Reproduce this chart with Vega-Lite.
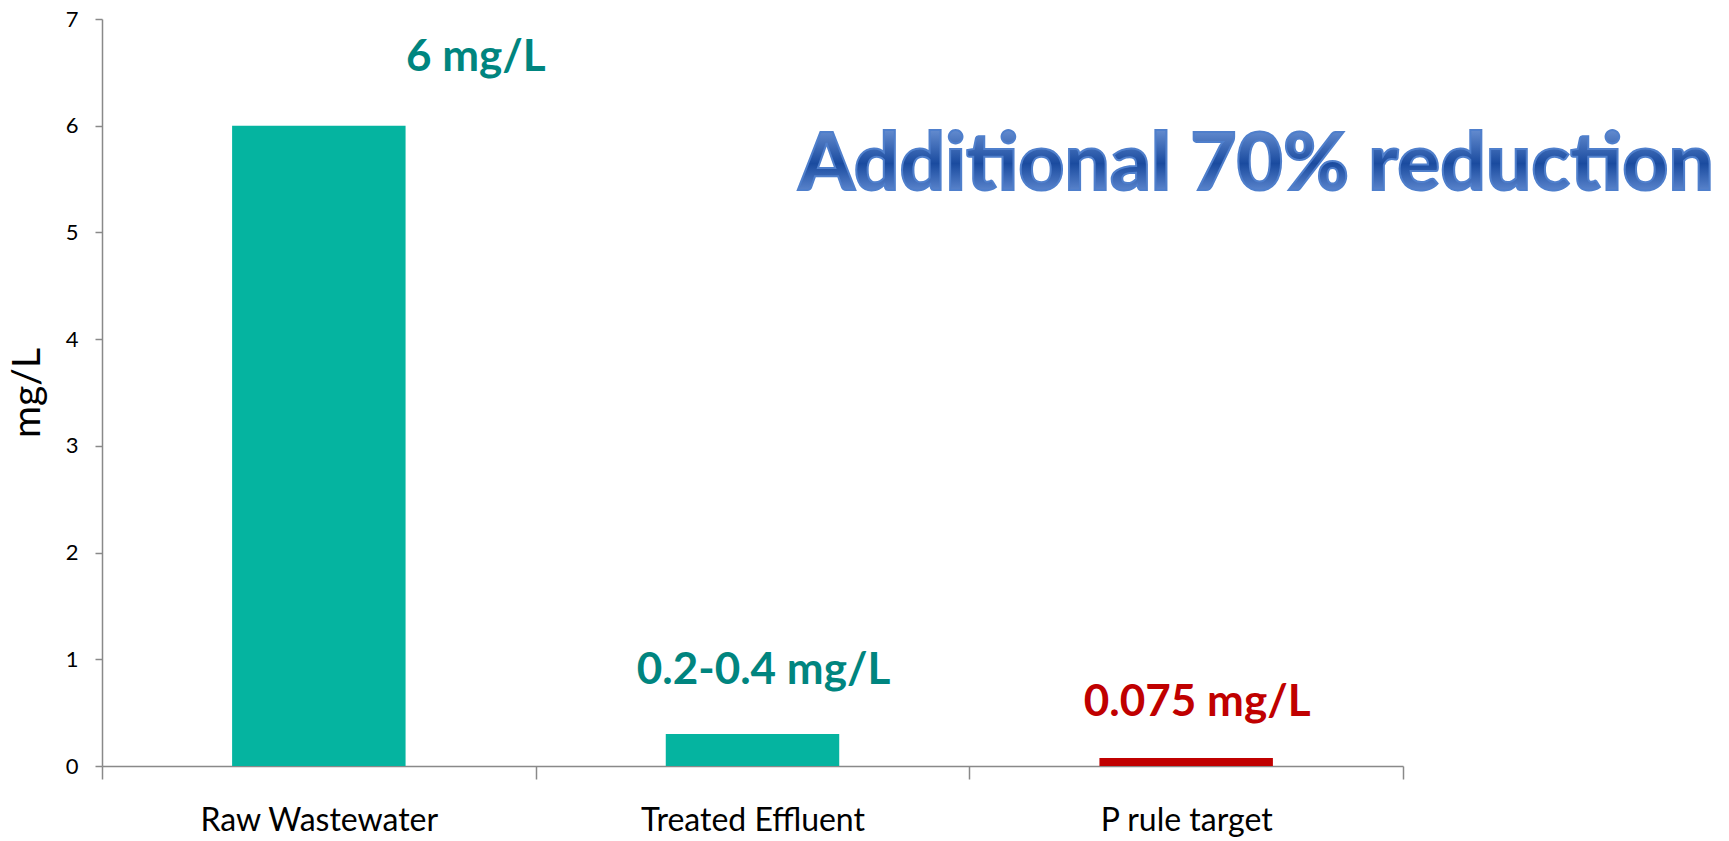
{
  "$schema": "https://vega.github.io/schema/vega-lite/v6.json",
  "autosize": "none",
  "width": 1301,
  "height": 747,
  "padding": {"left": 102, "top": 19, "right": 326, "bottom": 75},
  "background": "white",
  "config": {
    "view": {"stroke": null},
    "font": "Lato",
    "axisX": {
      "tickBand": "extent", "labelAngle": 0, "labelLimit": 0,
      "labelFont": "Lato", "labelFontSize": 32, "labelColor": "#000000",
      "labelPadding": 26, "tickSize": 13, "tickColor": "#898989",
      "domainColor": "#898989", "domainWidth": 1.5, "tickWidth": 1.5
    },
    "axisY": {
      "titleFont": "Lato", "titleFontSize": 39, "titleFontWeight": "normal",
      "titleColor": "#000000", "titlePadding": 18, "grid": false,
      "labelFont": "Lato", "labelFontSize": 22, "labelColor": "#000000",
      "labelPadding": 17, "tickSize": 7, "tickColor": "#898989",
      "domainColor": "#898989", "domainWidth": 1.5, "tickWidth": 1.5
    }
  },
  "datasets": {
    "bars": [
      {"category": "Raw Wastewater", "value": 6.0},
      {"category": "Treated Effluent", "value": 0.3},
      {"category": "P rule target", "value": 0.075}
    ],
    "notes": [
      {"category": "Raw Wastewater", "label": "6 mg/L", "ypos": 6.51},
      {"category": "Treated Effluent", "label": "0.2-0.4 mg/L", "ypos": 0.765},
      {"category": "P rule target", "label": "0.075 mg/L", "ypos": 0.466}
    ],
    "headline": [
      {"category": "P rule target", "label": "Additional 70% reduction", "ypos": 5.4}
    ]
  },
  "encoding": {
    "x": {
      "field": "category", "type": "nominal", "sort": null,
      "scale": {"domain": ["Raw Wastewater", "Treated Effluent", "P rule target"], "paddingInner": 0, "paddingOuter": 0},
      "axis": {"title": null}
    }
  },
  "layer": [
    {
      "data": {"name": "bars"},
      "mark": {"type": "bar", "width": {"band": 0.4}},
      "encoding": {
        "y": {
          "field": "value", "type": "quantitative",
          "scale": {"domain": [0, 7], "nice": false},
          "axis": {"title": "mg/L", "values": [0, 1, 2, 3, 4, 5, 6, 7], "format": "d"}
        },
        "color": {
          "field": "category", "type": "nominal", "legend": null,
          "scale": {"domain": ["Raw Wastewater", "Treated Effluent", "P rule target"], "range": ["#05B4A0", "#05B4A0", "#C00000"]}
        }
      }
    },
    {
      "data": {"name": "notes"},
      "transform": [{"filter": "datum.category === 'Raw Wastewater'"}],
      "mark": {"type": "text", "font": "Lato", "fontWeight": "bold", "fontSize": 44, "baseline": "alphabetic", "align": "center", "dx": 157},
      "encoding": {
        "y": {"field": "ypos", "type": "quantitative"},
        "text": {"field": "label"},
        "fill": {"field": "category", "type": "nominal", "legend": null,
          "scale": {"domain": ["Raw Wastewater", "Treated Effluent", "P rule target"], "range": ["#00857F", "#00857F", "#C00000"]}}
      }
    },
    {
      "data": {"name": "notes"},
      "transform": [{"filter": "datum.category !== 'Raw Wastewater'"}],
      "mark": {"type": "text", "font": "Lato", "fontWeight": "bold", "fontSize": 44, "baseline": "alphabetic", "align": "center", "dx": 11},
      "encoding": {
        "y": {"field": "ypos", "type": "quantitative"},
        "text": {"field": "label"},
        "fill": {"field": "category", "type": "nominal", "legend": null,
          "scale": {"domain": ["Raw Wastewater", "Treated Effluent", "P rule target"], "range": ["#00857F", "#00857F", "#C00000"]}}
      }
    },
    {
      "data": {"name": "headline"},
      "mark": {
        "type": "text", "font": "Lato", "fontWeight": 900, "fontSize": 80,
        "baseline": "alphabetic", "align": "center", "dx": 70,
        "fill": {"gradient": "linear", "x1": 0, "y1": 0, "x2": 0, "y2": 1,
          "stops": [{"offset": 0, "color": "#8DB0EA"}, {"offset": 0.55, "color": "#1A4B9F"}, {"offset": 1, "color": "#7FA5E6"}]},
        "stroke": "#4F7FCC", "strokeWidth": 2
      },
      "encoding": {
        "y": {"field": "ypos", "type": "quantitative"},
        "text": {"field": "label"}
      }
    }
  ]
}
